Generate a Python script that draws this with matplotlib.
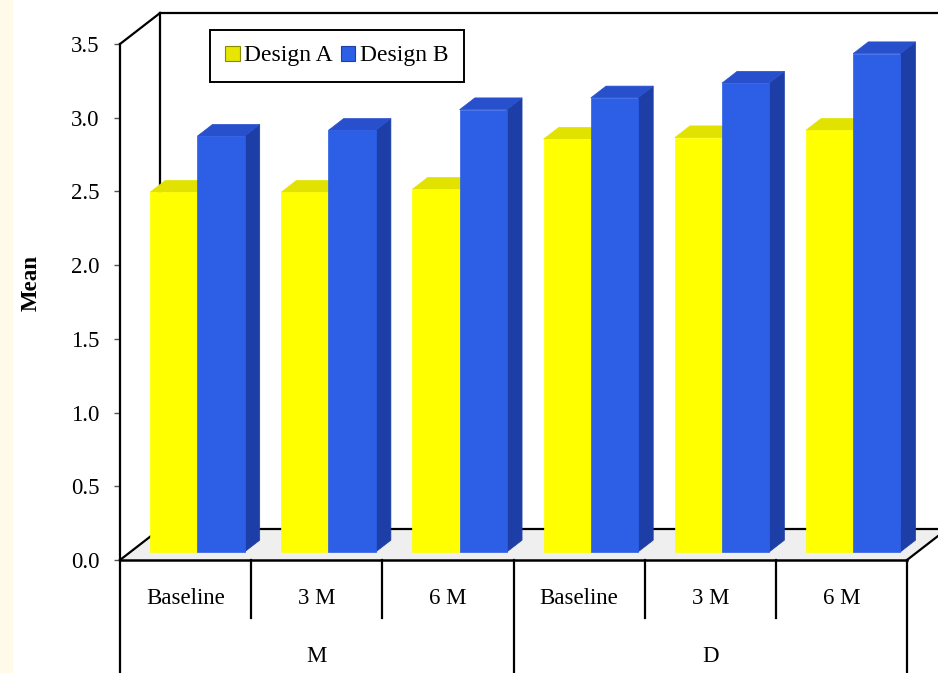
import numpy as np
import matplotlib.pyplot as plt
from matplotlib.patches import Polygon, Patch, Rectangle

periods = ['Baseline', '3 M', '6 M', 'Baseline', '3 M', '6 M']
groups = ['M', 'D']
group_size = 3
design_a = [2.44, 2.44, 2.46, 2.80, 2.81, 2.86]
design_b = [2.82, 2.86, 3.00, 3.08, 3.18, 3.38]
yticks = np.arange(0, 3.51, 0.5)

plt.rcParams['font.family'] = ['Liberation Serif', 'DejaVu Serif']
FS = 16.5

fig = plt.figure(figsize=(9.38, 6.73), dpi=100)
fig.patch.set_facecolor('white')
fig.patches.append(Rectangle((0, 0), 12 / 938, 1, transform=fig.transFigure,
                             color='#fffbe8', zorder=-1))
ax = fig.add_axes([120 / 938, 113 / 673, 787 / 938, 516 / 673])
ax.patch.set_alpha(0)
n = len(periods)
ax.set_xlim(0, n)
ax.set_ylim(0, 3.5)

# depth of the fake 3d box (data units)
DX, DY = 0.305, 0.21
ymax = 3.5

# floor
ax.add_patch(Polygon([(0, 0), (n, 0), (n + DX, DY), (DX, DY)], closed=True,
                     fc='#efefef', ec='none', clip_on=False, zorder=1))
lk = dict(color='black', lw=1.6, clip_on=False, zorder=2)
ax.plot([0, DX], [ymax, ymax + DY], **lk)
ax.plot([DX, n + 1], [ymax + DY, ymax + DY], **lk)
ax.plot([DX, DX], [DY, ymax + DY], **lk)
ax.plot([0, DX], [0, DY], **lk)
ax.plot([DX, n + 1], [DY, DY], **lk)
ax.plot([n, n + DX], [0, DY], **lk)

# bars
f0, fd = 0.26, 0.38
w, off = 0.36, 0.15
series = [
    (design_a, ('#ffff00', '#b8b800', '#e2e200')),
    (design_b, ('#2c5ee6', '#1d3ea6', '#2950cc')),
]
ddx, ddy = fd * DX, fd * DY
z = 3
for i in range(n):
    for j, (vals, (cf, cs, ct)) in enumerate(series):
        v = vals[i]
        x0 = i + off + j * w + f0 * DX
        y0 = f0 * DY
        x1, y1 = x0 + w, y0 + v
        front = [(x0, y0), (x1, y0), (x1, y1), (x0, y1)]
        side = [(x1, y0), (x1 + ddx, y0 + ddy), (x1 + ddx, y1 + ddy), (x1, y1)]
        top = [(x0, y1), (x1, y1), (x1 + ddx, y1 + ddy), (x0 + ddx, y1 + ddy)]
        for pts, c in ((side, cs), (top, ct), (front, cf)):
            ax.add_patch(Polygon(pts, closed=True, fc=c, ec=c, lw=0.5,
                                 clip_on=False, zorder=z))
        z += 1

# front floor edge drawn on top
ax.plot([0, n], [0, 0], color='black', lw=1.8, clip_on=False, zorder=z + 1)

# axes styling
for s in ['top', 'right', 'bottom']:
    ax.spines[s].set_visible(False)
ax.spines['left'].set_linewidth(1.6)
ax.spines['left'].set_zorder(z + 1)
ax.set_yticks(yticks)
ax.set_yticklabels(['%.1f' % t for t in yticks], fontsize=FS)
ax.tick_params(axis='y', length=4, width=1, pad=11, color='#555555')
ax.set_xticks([])
ax.set_ylabel('Mean', fontsize=FS, fontweight='bold')
ax.yaxis.set_label_coords(-0.100, 0.537)

# category table below the floor
px = 1 / 516
tr = ax.get_xaxis_transform()
for k in range(n + 1):
    if k % group_size == 0:
        ax.plot([k, k], [0, -120 * px], transform=tr, color='black', lw=1.6, clip_on=False)
    else:
        ax.plot([k, k], [0, -58 * px], transform=tr, color='black', lw=1.6, clip_on=False)
for i, p in enumerate(periods):
    ax.text(i + 0.5, -39 * px, p, transform=tr, ha='center', va='center', fontsize=FS)
for g, name in enumerate(groups):
    ax.text(g * group_size + group_size / 2, -96 * px, name, transform=tr,
            ha='center', va='center', fontsize=FS)

# legend
handles = [Patch(fc='#e6e600', ec='#8a8a00', lw=0.8, label='Design A'),
           Patch(fc='#2c5ee6', ec='#1d3ea6', lw=0.8, label='Design B')]
leg = ax.legend(handles=handles, ncol=2, loc='upper left',
                bbox_to_anchor=((210 - 120) / 787, (560 - 30) * px),
                fontsize=17, frameon=True, fancybox=False, framealpha=1,
                edgecolor='black', borderaxespad=0, handlelength=0.6,
                handleheight=0.6, handletextpad=0.2, columnspacing=0.35,
                borderpad=0.65)
leg.get_frame().set_linewidth(1.4)
leg.set_zorder(z + 2)

fig.savefig('out.png', dpi=100)
